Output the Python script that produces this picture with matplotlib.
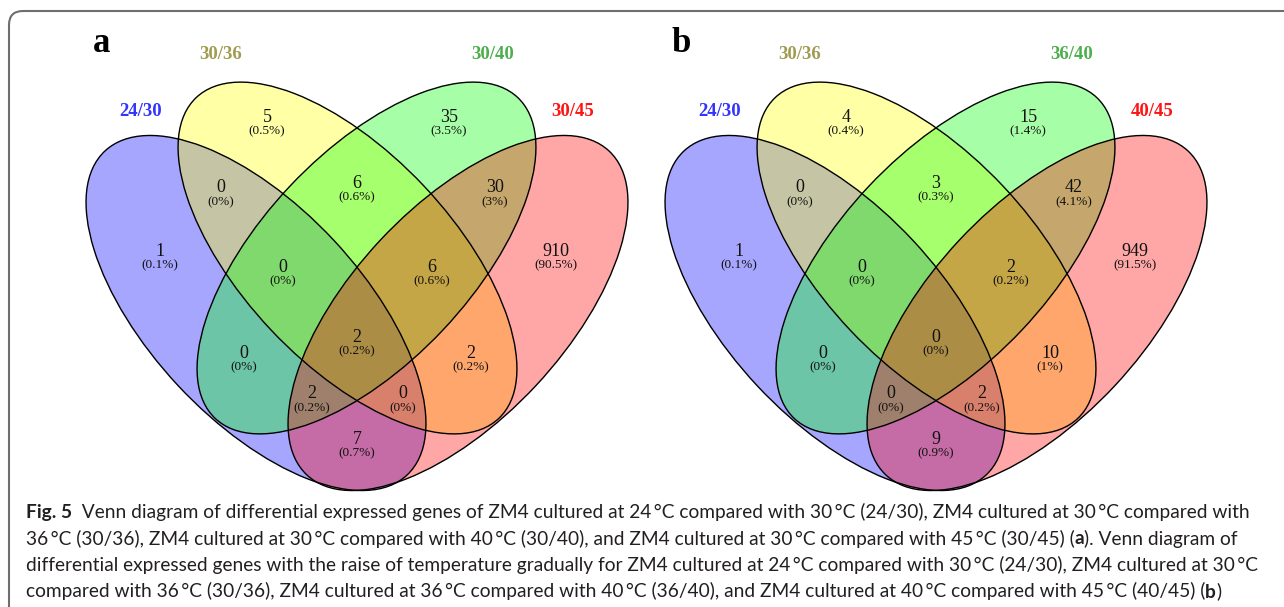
import matplotlib
matplotlib.use('Agg')
import matplotlib.pyplot as plt
from matplotlib.patches import Ellipse, FancyBboxPatch

# region order: B=first set (blue), Y=second (yellow), G=third (green), R=fourth (red)
REGIONS = ['B', 'Y', 'G', 'R', 'BY', 'YG', 'GR', 'BYG', 'YGR', 'BYGR', 'BG', 'YR', 'BGR', 'BYR', 'BR']

names_a = ['24/30', '30/36', '30/40', '30/45']
counts_a = [1, 5, 35, 910, 0, 6, 30, 0, 6, 2, 0, 2, 2, 0, 7]
pct_a = ['0.1%', '0.5%', '3.5%', '90.5%', '0%', '0.6%', '3%', '0%', '0.6%', '0.2%',
         '0%', '0.2%', '0.2%', '0%', '0.7%']

names_b = ['24/30', '30/36', '36/40', '40/45']
counts_b = [1, 4, 15, 949, 0, 3, 42, 0, 2, 0, 0, 10, 0, 2, 9]
pct_b = ['0.1%', '0.4%', '1.4%', '91.5%', '0%', '0.3%', '4.1%', '0%', '0.2%', '0%',
         '0%', '1%', '0%', '0.2%', '0.9%']

caption = [
    [("Fig. 5", 'bold'),
     ("  Venn diagram of differential expressed genes of ZM4 cultured at 24\u2009°C compared with 30\u2009°C "
      "(24/30), ZM4 cultured at 30\u2009°C compared with", 'normal')],
    [("36\u2009°C (30/36), ZM4 cultured at 30\u2009°C compared with 40\u2009°C (30/40), and ZM4 cultured at "
      "30\u2009°C compared with 45\u2009°C (30/45) (", 'normal'), ("a", 'bold'), ("). Venn diagram of", 'normal')],
    [("differential expressed genes with the raise of temperature gradually for ZM4 cultured at 24\u2009°C "
      "compared with 30\u2009°C (24/30), ZM4 cultured at 30\u2009°C", 'normal')],
    [("compared with 36\u2009°C (30/36), ZM4 cultured at 36\u2009°C compared with 40\u2009°C (36/40), and ZM4 "
      "cultured at 40\u2009°C compared with 45\u2009°C (40/45) (", 'normal'), ("b", 'bold'), (")", 'normal')],
]

# layout (pixels, y downwards, x relative to the diagram's mirror axis)
FILLS = ['#0000ff', '#ffff00', '#00ff00', '#ff0000']
NAME_COLORS = ['#3434ff', '#a09c52', '#4cae4c', '#ff1414']
ELLIPSES = [(-101, 313, 443, 213, 47.0), (-9.5, 258, 441, 210, 46.7),
            (9.5, 258, 441, 210, -46.7), (101, 313, 443, 213, -47.0)]
NAME_POS = [(-216, 111.5), (-136, 54.5), (136, 54.5), (216, 111.5)]
LABEL_POS = {'B': (-197, 251), 'Y': (-90, 117), 'G': (92, 117), 'R': (199, 251),
             'BY': (-136, 188), 'YG': (0, 183), 'GR': (138, 188),
             'BYG': (-74, 267), 'YGR': (75, 267), 'BYGR': (0, 337),
             'BG': (-113, 353), 'YR': (114, 353), 'BGR': (-45, 394), 'BYR': (46, 394),
             'BR': (0, 439)}
SERIF = 'Liberation Serif'

fig = plt.figure(figsize=(12.84, 6.07), dpi=100)
ax = fig.add_axes([0, 0, 1, 1])
ax.set_xlim(0, 1284)
ax.set_ylim(607, 0)
ax.axis('off')

# frame around the figure (right and bottom run off the picture)
ax.add_patch(FancyBboxPatch((9, 11), 1400, 700, boxstyle='round,pad=0,rounding_size=14',
                            fc='none', ec='#6e6e6e', lw=1.5))


def draw_venn(x0, letter, names, counts, pcts):
    for (dx, cy, w, h, ang), col in zip(ELLIPSES, FILLS):
        ax.add_patch(Ellipse((x0 + dx, cy), w, h, angle=ang, fc=matplotlib.colors.to_rgba(col, 0.35),
                             ec='none', zorder=2))
    for dx, cy, w, h, ang in ELLIPSES:
        ax.add_patch(Ellipse((x0 + dx, cy), w, h, angle=ang, fc='none', ec='black', lw=1.0, zorder=3))
    for reg, n, p in zip(REGIONS, counts, pcts):
        dx, y = LABEL_POS[reg]
        ax.text(x0 + dx, y, str(n), ha='center', va='center', fontsize=13, family=SERIF,
                color='#111111', zorder=4)
        ax.text(x0 + dx, y + 14.5, '(' + p + ')', ha='center', va='center', fontsize=9.5,
                family=SERIF, color='#111111', zorder=4)
    for (dx, y), name, col in zip(NAME_POS, names, NAME_COLORS):
        ax.text(x0 + dx, y, name, ha='center', va='center', fontsize=13.5, family=SERIF,
                fontweight='bold', color=col)
    ax.text(x0 - 255, 43, letter, ha='center', va='center', fontsize=25, family=SERIF,
            fontweight='bold', color='black')


draw_venn(357, 'a', names_a, counts_a, pct_a)
draw_venn(936, 'b', names_b, counts_b, pct_b)

# caption, font size fitted to the width of the first line
renderer = fig.canvas.get_renderer()


def draw_caption(size):
    arts = []
    widths = []
    for i, line in enumerate(caption):
        x = 26
        y = 518 + i * 26.5
        for txt, wt in line:
            t = ax.text(x, y, txt, ha='left', va='baseline', fontsize=size, fontweight=wt,
                        family=['Lato', 'DejaVu Sans'], color='#231f20')
            x += t.get_window_extent(renderer).width
            arts.append(t)
        widths.append(x - 26)
    return arts, widths


trial, w = draw_caption(14)
for t in trial:
    t.remove()
draw_caption(14 * 1229 / w[0])

fig.savefig('out.png', dpi=100)
